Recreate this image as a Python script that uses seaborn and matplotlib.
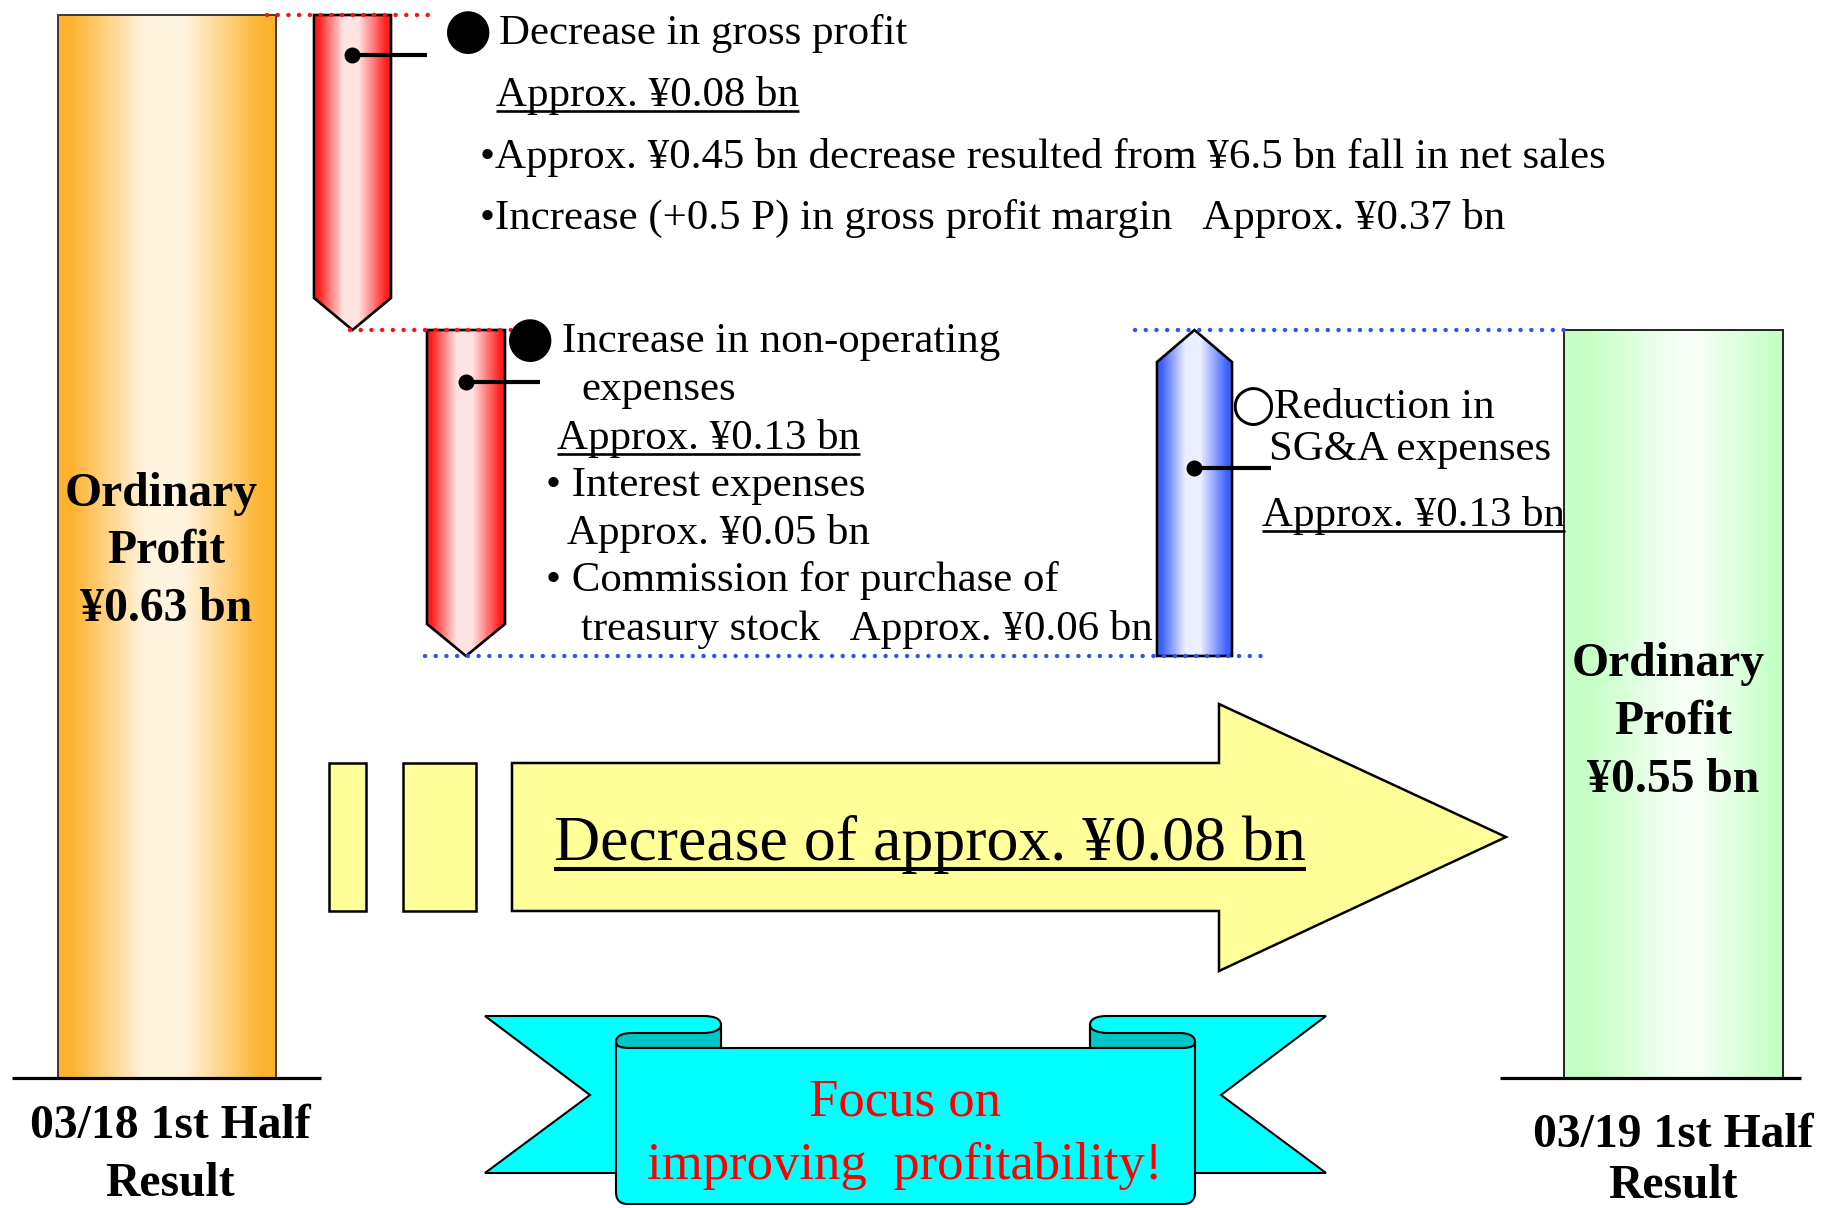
import numpy as np
import pandas as pd
import matplotlib
matplotlib.use("Agg")
import matplotlib.pyplot as plt
from matplotlib.path import Path
from matplotlib.patches import PathPatch, Polygon, Rectangle
import seaborn as sns

# ---------------- figures (¥ bn) ----------------
periods = ["03/18 1st Half", "03/19 1st Half"]
ordinary_profit = [0.63, 0.55]
step_changes = [-0.08, -0.13, 0.13]     # gross profit, non-operating expenses, SG&A
sales_effect = 0.45                      # decrease caused by lower net sales
net_sales_fall = 6.5
margin_points = 0.5
margin_effect = 0.37
interest_expenses = 0.05
treasury_commission = 0.06
total_change = -0.08

# ---------------- canvas ----------------
W, H = 1821, 1208
sns.set_theme(style="white")
plt.rcParams["font.family"] = ["Liberation Serif", "DejaVu Sans"]
SERIF = ["Liberation Serif", "DejaVu Sans"]

# waterfall levels: start, after each step
levels = np.round(np.cumsum([ordinary_profit[0]] + step_changes), 4)

# broken (piecewise-linear) value axis so that the small steps remain visible
knot_vals = np.unique(np.concatenate([[0.0], levels]))
knot_px = np.array([130.0, 552.0, 878.0, 1193.0])   # canvas height of each knot
lo_slope = (knot_px[1] - knot_px[0]) / (knot_vals[1] - knot_vals[0])
hi_slope = (knot_px[-1] - knot_px[-2]) / (knot_vals[-1] - knot_vals[-2])
xv = np.concatenate([[knot_vals[0] - 10], knot_vals, [knot_vals[-1] + 10]])
xp = np.concatenate([[knot_px[0] - 10 * lo_slope], knot_px, [knot_px[-1] + 10 * hi_slope]])


def fwd(v):
    return np.interp(v, xv, xp)


def inv(p):
    return np.interp(p, xp, xv)


fig = plt.figure(figsize=(W / 100, H / 100), dpi=100)
fig.patch.set_facecolor("white")
ax = fig.add_axes([0, 0, 1, 1])
ax.set_yscale("function", functions=(fwd, inv))


def gradient_strips(clip, x0, x1, y0, y1, edge_rgb, mid_rgb, t_knots, f_knots, n=160):
    xs = np.linspace(x0, x1, n + 1)
    xc = 0.5 * (xs[:-1] + xs[1:])
    f = np.interp((xc - x0) / (x1 - x0), t_knots, f_knots)
    edge = np.array(edge_rgb) / 255.0
    mid = np.array(mid_rgb) / 255.0
    cols = edge + (mid - edge) * f[:, None]
    strips = ax.bar(xc, y1 - y0, bottom=y0, width=(x1 - x0) / n * 1.1,
                    color=cols, linewidth=0, zorder=2)
    for s in strips:
        s.set_clip_path(clip)


# ---- result bars (seaborn) ----
bar_centers = [167.0, 1673.5]
bar_width = 218.5
df = pd.DataFrame({"period": periods, "x": bar_centers, "profit": ordinary_profit})
sns.barplot(data=df, x="x", y="profit", native_scale=True, orient="x",
            width=bar_width / (bar_centers[1] - bar_centers[0]),
            color="#FFB732", errorbar=None, ax=ax)
result_bars = list(ax.patches)[:2]
bar_styles = [
    dict(edge=(253, 178, 45), mid=(255, 244, 222), t=[0, .06, .40, .58, .94, 1], f=[0, 0, 1, 1, 0, 0],
         ec="#3a3a3a"),
    dict(edge=(198, 255, 198), mid=(247, 255, 247), t=[0, .12, .52, .62, .95, 1], f=[0, 0, 1, 1, 0, 0],
         ec="#222222"),
]
for patch, st in zip(result_bars, bar_styles):
    patch.set_facecolor("none")
    patch.set_edgecolor(st["ec"])
    patch.set_linewidth(1.4)
    patch.set_zorder(3)
    x0 = patch.get_x()
    x1 = x0 + patch.get_width()
    gradient_strips(patch, x0, x1, 0, patch.get_height(), st["edge"], st["mid"], st["t"], st["f"])

# baselines
ax.plot([12, 321], [0, 0], color="black", lw=2.3, solid_capstyle="butt", zorder=4)
ax.plot([1500, 1801], [0, 0], color="black", lw=2.3, solid_capstyle="butt", zorder=4)

# ---- step arrows ----
step_x = [(314, 391), (427, 505), (1157, 1232)]
head_px = 32
step_styles = [
    dict(edge=(255, 30, 30), mid=(255, 226, 226)),
    dict(edge=(255, 30, 30), mid=(255, 226, 226)),
    dict(edge=(60, 95, 255), mid=(236, 239, 255)),
]
for i, ((x0, x1), st) in enumerate(zip(step_x, step_styles)):
    y_from, y_to = levels[i], levels[i + 1]
    xc = 0.5 * (x0 + x1)
    if y_to < y_from:
        shoulder = inv(fwd(y_to) + head_px)
    else:
        shoulder = inv(fwd(y_to) - head_px)
    verts = [(x0, y_from), (x1, y_from), (x1, shoulder), (xc, y_to), (x0, shoulder)]
    poly = Polygon(verts, closed=True, facecolor="none", edgecolor="black",
                   lw=1.9, joinstyle="miter", zorder=3)
    ax.add_patch(poly)
    gradient_strips(poly, x0, x1, min(y_from, y_to), max(y_from, y_to), st["edge"], st["mid"],
                    [0, .06, .38, .58, .94, 1], [0, 0, 1, 1, 0, 0])

# dotted level guides
RED, BLUE = "#FF1010", "#2F52FF"
guides = [(0, 267, 428, RED), (1, 350, 534, RED), (2, 425, 1262, BLUE), (3, 1135, 1564, BLUE)]
for idx, gx0, gx1, col in guides:
    ax.plot([gx0, gx1], [levels[idx]] * 2, color=col, lw=3.2, linestyle=(0, (0.01, 2.4)),
            dash_capstyle="round", zorder=6)

ax.set_xlim(0, W)
ax.set_ylim(inv(0), inv(H))
ax.axis("off")

# ---------------- annotation layer (canvas pixels, y downward) ----------------
ax2 = fig.add_axes([0, 0, 1, 1])
ax2.set_xlim(0, W)
ax2.set_ylim(H, 0)
ax2.axis("off")
ax2.patch.set_alpha(0)

# leader lines from the arrows to their notes
for (dx, dy, ex) in [(352, 55, 427), (466, 382, 540), (1194, 468, 1271)]:
    ax2.plot([dx, ex], [dy, dy], color="black", lw=3.0, solid_capstyle="butt", zorder=7)
    ax2.plot([dx], [dy], marker="o", ms=10.5, color="black", zorder=7)

REG, BOLD, BIG, RIB = 30.85, 34.3, 46.0, 38.0
underlined = []


def put(x, y, s, size=REG, weight="normal", color="black", ha="left", family=SERIF, ul=None):
    t = ax2.text(x, y, s, fontsize=size, fontweight=weight, color=color, ha=ha,
                 va="baseline", family=family, zorder=8)
    if ul is not None:
        underlined.append((t, y, ul))
    return t


# gross profit note
put(468, 47, "●", size=40, ha="center", family=["DejaVu Sans"])
put(499, 44, "Decrease in gross profit")
put(496, 106, f"Approx. ¥{abs(step_changes[0]):.2f} bn", ul=(4.5, 1.9))
put(480, 168, f"•Approx. ¥{sales_effect:.2f} bn decrease resulted from ¥{net_sales_fall:.1f} bn fall in net sales")
put(480, 229, f"•Increase (+{margin_points:.1f} P) in gross profit margin   Approx. ¥{margin_effect:.2f} bn")

# non-operating expenses note
put(530, 355, "●", size=40, ha="center", family=["DejaVu Sans"])
put(562, 352, "Increase in non-operating")
put(581, 400, "expenses")
put(557, 449, f"Approx. ¥{abs(step_changes[1]):.2f} bn", ul=(4.5, 1.9))
put(546, 496, "• Interest expenses")
put(567, 544, f"Approx. ¥{interest_expenses:.2f} bn")
put(546, 591, "• Commission for purchase of")
put(581, 640, f"treasury stock   Approx. ¥{treasury_commission:.2f} bn")

# SG&A note
put(1253, 420, "○", size=37, ha="center", family=["DejaVu Sans"])
put(1274, 418, "Reduction in")
put(1269, 460, "SG&A expenses")
put(1262, 526, f"Approx. ¥{step_changes[2]:.2f} bn", ul=(4.5, 1.9))

# result labels
for cx, ys, v in [((161, 166, 166), (506, 563, 621), ordinary_profit[0]),
                  ((1668, 1673, 1673), (676, 734, 792), ordinary_profit[1])]:
    put(cx[0], ys[0], "Ordinary", size=BOLD, weight="bold", ha="center")
    put(cx[1], ys[1], "Profit", size=BOLD, weight="bold", ha="center")
    put(cx[2], ys[2], f"¥{v:.2f} bn", size=BOLD, weight="bold", ha="center")
for cx, ys, name in [(170, (1138, 1196), periods[0]), (1673, (1147, 1198), periods[1])]:
    put(cx, ys[0], name, size=BOLD, weight="bold", ha="center")
    put(cx, ys[1], "Result", size=BOLD, weight="bold", ha="center")

# ---- yellow summary arrow ----
YEL = "#FFFF99"
ax2.add_patch(Rectangle((329, 763), 37, 148, facecolor=YEL, edgecolor="black", lw=1.8, zorder=4))
ax2.add_patch(Rectangle((403, 763), 73, 148, facecolor=YEL, edgecolor="black", lw=1.8, zorder=4))
ax2.add_patch(Polygon([(512, 763), (1219, 763), (1219, 704), (1506, 837), (1219, 971), (1219, 911), (512, 911)],
                      closed=True, facecolor=YEL, edgecolor="black", lw=1.8, joinstyle="miter", zorder=4))
put(554, 860, f"Decrease of approx. ¥{abs(total_change):.2f} bn", size=BIG, ul=(8.5, 2.9))


# ---- ribbon banner ----
def build(cmds, mirror=False):
    verts, codes = [], []
    m = (lambda p: (1811 - p[0], p[1])) if mirror else (lambda p: p)
    for c in cmds:
        if c[0] == "M":
            verts.append(m(c[1])); codes.append(Path.MOVETO)
        elif c[0] == "L":
            verts.append(m(c[1])); codes.append(Path.LINETO)
        elif c[0] == "C":
            verts += [m(c[1]), m(c[2]), m(c[3])]; codes += [Path.CURVE4] * 3
        elif c[0] == "Z":
            verts.append(verts[0]); codes.append(Path.CLOSEPOLY)
    return Path(verts, codes)


CYAN, DCYAN = "#00FFFF", "#00C6C6"
tail = [("M", (485, 1016)), ("L", (703, 1016)), ("C", (715, 1016), (721, 1019), (721, 1025)),
        ("L", (721, 1110)), ("L", (616, 1173)), ("L", (485, 1173)), ("L", (590, 1095)), ("Z",)]
tube = [("M", (616, 1048)), ("L", (616, 1042)), ("C", (616, 1036), (622, 1033), (632, 1033)),
        ("L", (703, 1033)), ("C", (713, 1033), (721, 1030), (721, 1025)), ("L", (721, 1048)), ("Z",)]
for mir in (False, True):
    ax2.add_patch(PathPatch(build(tail, mir), facecolor=CYAN, edgecolor="black", lw=1.5, zorder=4))
    ax2.add_patch(PathPatch(build(tube, mir), facecolor=DCYAN, edgecolor="black", lw=1.5, zorder=4))
panel = [("M", (616, 1042)), ("C", (616, 1046), (620, 1048), (630, 1048)), ("L", (1181, 1048)),
         ("C", (1191, 1048), (1195, 1046), (1195, 1042)), ("L", (1195, 1192)),
         ("C", (1195, 1200), (1191, 1204), (1183, 1204)), ("L", (628, 1204)),
         ("C", (620, 1204), (616, 1200), (616, 1192)), ("Z",)]
ax2.add_patch(PathPatch(build(panel), facecolor=CYAN, edgecolor="black", lw=1.5, zorder=5))
put(905, 1115, "Focus on", size=RIB, color="#FF0000", ha="center")
put(905, 1179, "improving  profitability!", size=RIB, color="#FF0000", ha="center")

# underlines measured from the rendered text
fig.canvas.draw()
renderer = fig.canvas.get_renderer()
for t, base, (gap, lw) in underlined:
    bb = t.get_window_extent(renderer)
    ax2.plot([bb.x0, bb.x1], [base + gap, base + gap], color="black", lw=lw,
             solid_capstyle="butt", zorder=8)

fig.savefig("out.png", dpi=100, facecolor="white")
